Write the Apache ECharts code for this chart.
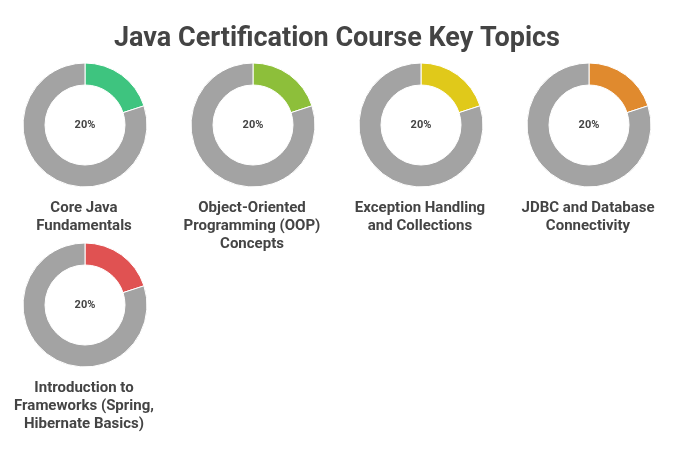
<!DOCTYPE html>
<html><head><meta charset="utf-8">
<script src="https://cdn.jsdelivr.net/npm/echarts@6/dist/echarts.min.js"></script>
<style>html,body{margin:0;padding:0;background:#fff}#c{width:674px;height:449px}</style>
</head><body><div id="c"></div>
<script>
const chartTitle = "Java Certification Course Key Topics";
const topics = ["Core Java\nFundamentals", "Object-Oriented\nProgramming (OOP)\nConcepts", "Exception Handling\nand Collections", "JDBC and Database\nConnectivity", "Introduction to\nFrameworks (Spring,\nHibernate Basics)"];
const shares = [20, 20, 20, 20, 20];
const colors = ["#3ec47f", "#8dbf3a", "#e0c91a", "#e08a2e", "#e05252"];

const centersX = [85, 253, 421, 589, 85];
const centersY = [125, 125, 125, 125, 305];

const chart = echarts.init(document.getElementById('c'));
const series = [];
const graphics = [];
topics.forEach((t, i) => {
  series.push({
    type: 'pie', silent: true,
    center: [centersX[i], centersY[i]], radius: [40, 62],
    startAngle: 90, clockwise: true,
    itemStyle: {borderColor: '#ffffff', borderWidth: 1},
    labelLine: {show: false},
    data: [
      {value: shares[i], itemStyle: {color: colors[i]},
       label: {show: true, position: 'center', formatter: shares[i] + '%', fontFamily: 'Roboto', fontWeight: 'bold', fontSize: 11, color: '#444444'}},
      {value: 100 - shares[i], itemStyle: {color: '#a3a3a3'}, label: {show: false}}
    ]
  });
  graphics.push({
    type: 'text', x: centersX[i] - 1, y: centersY[i] + 74, silent: true,
    style: {text: t, align: 'center', verticalAlign: 'top', fontFamily: 'Roboto', fontWeight: 'bold', fontSize: 15, lineHeight: 18, fill: '#444444'}
  });
});
chart.setOption({
  animation: false,
  title: {text: chartTitle, left: 'center', top: 21,
    textStyle: {fontFamily: 'Roboto', fontWeight: 'bold', fontSize: 27, color: '#444444'}},
  graphic: graphics,
  series: series
});
</script></body></html>
